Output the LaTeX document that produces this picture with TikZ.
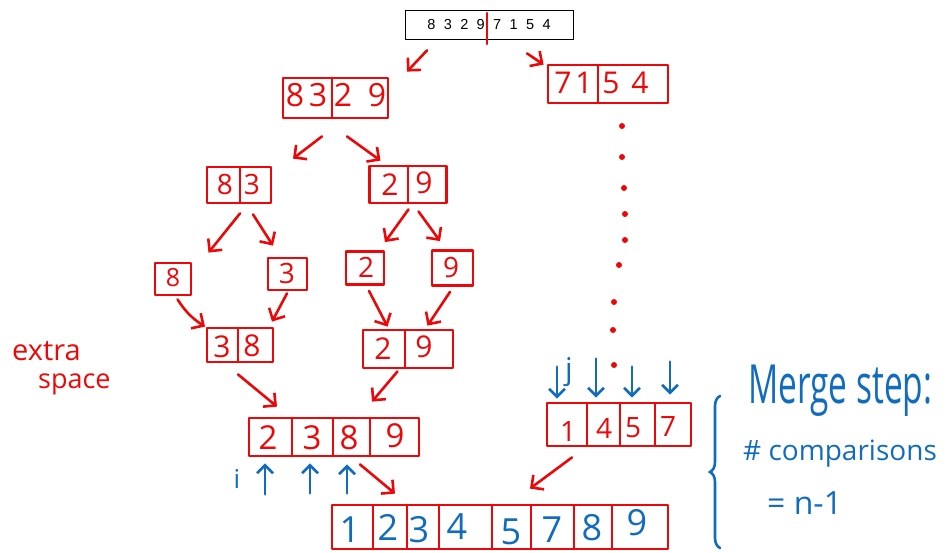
\documentclass[tikz,border=0pt]{standalone}
\usepackage{fontspec}
\usepackage{graphicx}
\setmainfont{Open Sans}
\newfontfamily\arialf{Liberation Sans}
\usetikzlibrary{arrows.meta,decorations.pathreplacing,calc}
\definecolor{myred}{RGB}{236,8,8}
\definecolor{myblue}{RGB}{18,108,190}
\begin{document}
\begin{tikzpicture}[x=1pt,y=-1pt,
  rbox/.style={draw=myred,line width=2.8pt,rectangle,inner sep=0pt,line join=round},
  rline/.style={draw=myred,line width=2.6pt,line cap=round},
  rarr/.style={draw=myred,line width=2.6pt,line cap=round,-{Straight Barb[length=9pt,width=18pt]}},
  barr/.style={draw=myblue,line width=2.6pt,line cap=round,-{Straight Barb[length=8pt,width=16pt]}},
  rdig/.style={text=myred,inner sep=0pt,font=\fontsize{#1}{#1}\selectfont},
  rdig/.default=30,
  bdig/.style={text=myblue,inner sep=0pt,font=\fontsize{36}{36}\selectfont}
]
\useasboundingbox (0,0) rectangle (949,552);

% top array
\node[draw=black,line width=0.8pt,minimum width=168pt,minimum height=29pt,inner sep=0pt,
      font=\arialf\fontsize{14.5}{14.5}\selectfont] (top) at (489,24.5)
      {\spaceskip=8.4pt\relax 8 3 2 9 7 1 5 4};
\draw[rline,line width=2.2pt] (487,13) -- (487,44);

% boxes
\node[rbox,minimum width=105pt,minimum height=40pt] (A) at (335.5,98) {};
\node[rbox,minimum width=120pt,minimum height=38pt] (B) at (608,84) {};
\node[rbox,minimum width=64pt,minimum height=36pt] (C) at (239,185) {};
\node[rbox,minimum width=77pt,minimum height=37pt] (D) at (408,184.5) {};
\node[rbox,minimum width=36pt,minimum height=32pt] (E) at (173,279) {};
\node[rbox,minimum width=39pt,minimum height=32pt] (F) at (287.5,274) {};
\node[rbox,minimum width=38pt,minimum height=33pt] (G) at (365,268) {};
\node[rbox,minimum width=41pt,minimum height=35pt] (H) at (452.5,268) {};
\node[rbox,minimum width=66pt,minimum height=34pt] (I) at (240,345) {};
\node[rbox,minimum width=90pt,minimum height=38pt] (J) at (408,349) {};
\node[rbox,minimum width=170pt,minimum height=38pt] (K) at (334,437) {};
\node[rbox,minimum width=144pt,minimum height=43pt] (L) at (619,424.5) {};
\node[rbox,minimum width=336pt,minimum height=44pt] (M) at (500,527) {};

% dividers
\draw[rline] (332,78) -- (332,118);
\draw[rline] (598,65) -- (598,103);
\draw[rline] (240,167) -- (240,203);
\draw[rline] (408,166) -- (408,203);
\draw[rline] (238,328) -- (238,362);
\draw[rline] (405,330) -- (405,368);
\foreach \xx in {292,333,370} \draw[rline] (\xx,418) -- (\xx,456);
\foreach \xx in {587,620,655} \draw[rline] (\xx,403) -- (\xx,446);
\foreach \xx in {373,407,439,492,531,574,612} \draw[rline] (\xx,505) -- (\xx,549);

% digits
\node[rdig=32] (a1) at (295,95) {8};
\node[rdig=32] (a2) at (318,95) {3};
\node[rdig=32] (a3) at (343,95) {2};
\node[rdig=32] (a4) at (377,95) {9};
\node[rdig] (b1) at (563,83) {7};
\node[rdig] (b2) at (584,83) {1};
\node[rdig] (b3) at (611,83) {5};
\node[rdig] (b4) at (640,83) {4};
\node[rdig=28] (c1) at (225,184) {8};
\node[rdig=28] (c2) at (252,184) {3};
\node[rdig] (d1) at (390,185) {2};
\node[rdig] (d2) at (424,183) {9};
\node[rdig=25] (e1) at (173,278) {8};
\node[rdig=28] (f1) at (287,273) {3};
\node[rdig=28] (g1) at (366,267) {2};
\node[rdig=28] (h1) at (451,267) {9};
\node[rdig] (i1) at (222,347) {3};
\node[rdig] (i2) at (252,346) {8};
\node[rdig] (j1) at (383,349) {2};
\node[rdig] (j2) at (424,347) {9};
\node[rdig=33] (k1) at (268,438) {2};
\node[rdig=33] (k2) at (312,438) {3};
\node[rdig=33] (k3) at (349,438) {8};
\node[rdig=33] (k4) at (395,436) {9};
\node[rdig=28] (l1) at (568,431) {1};
\node[rdig=28] (l2) at (604,428) {4};
\node[rdig=28] (l3) at (633,428) {5};
\node[rdig=28] (l4) at (668,426) {7};
\node[bdig] (m1) at (350,530) {1};
\node[bdig] (m2) at (388,527) {2};
\node[bdig] (m3) at (419,530) {3};
\node[bdig] (m4) at (457,527) {4};
\node[bdig] (m5) at (511,532) {5};
\node[bdig] (m6) at (552,530) {7};
\node[bdig] (m7) at (592,528) {8};
\node[bdig] (m8) at (637,523) {9};

% red arrows
\draw[rarr] ([shift={(-62,11)}]top.south) -- ([shift={(71.5,-5)}]A.north);
\draw[rarr] ([shift={(38,14)}]top.south) -- ([shift={(-3,1)}]B.north west);
\draw[rarr] ([shift={(-13.5,17)}]A.south) -- ([shift={(54,-7)}]C.north);
\draw[rarr] ([shift={(11.5,17)}]A.south) -- ([shift={(-27.5,-4)}]D.north);
\draw[rarr] ([shift={(1,9)}]C.south) -- ([shift={(35.5,-9)}]E.north);
\draw[rarr] ([shift={(14,10)}]C.south) -- ([shift={(-14.5,-11)}]F.north);
\draw[rarr] ([shift={(0.5,5)}]D.south) -- ([shift={(20,-8)}]G.north);
\draw[rarr] ([shift={(10.5,7)}]D.south) -- ([shift={(-12.5,-8)}]H.north);
\draw[rarr] ([shift={(4.5,3)}]E.south) to[bend right=12] ([shift={(-35,0)}]I.north);
\draw[rarr] ([shift={(-0.5,2)}]F.south) -- ([shift={(32,-5)}]I.north);
\draw[rarr] ([shift={(4,5)}]G.south) -- ([shift={(-20.5,-2)}]J.north);
\draw[rarr] ([shift={(-2.5,5)}]H.south) -- ([shift={(19.5,-3)}]J.north);
\draw[rarr] ([shift={(-2,11)}]I.south) -- ([shift={(-57,-10)}]K.north);
\draw[rarr] ([shift={(-10.5,2)}]J.south) -- ([shift={(38,-15)}]K.north);
\draw[rarr] ([shift={(26,7)}]K.south) -- ([shift={(-105,-10)}]M.north);
\draw[rarr] ([shift={(-47,10)}]L.south) -- ([shift={(30,-15)}]M.north);

% dots
\foreach \px/\py in {622/126,622/157,624/188,625/214,625/240,619/265,614/302,613/330,614/365}
  \fill[myred] (\px,\py) circle (3pt);

% blue pointer arrows
\draw[barr] ([shift={(-69,37)}]K.south) -- ([shift={(-69,6)}]K.south);
\draw[barr] ([shift={(-24,36)}]K.south) -- ([shift={(-24,6)}]K.south);
\draw[barr] ([shift={(13,36)}]K.south) -- ([shift={(13,7)}]K.south);
\node[text=myblue,inner sep=0pt,font=\fontsize{26}{26}\selectfont] (ilab) at (237,479) {i};
\draw[barr] ([shift={(-62,-35)}]L.north) -- ([shift={(-62,-3)}]L.north);
\draw[barr] ([shift={(-23,-43)}]L.north) -- ([shift={(-23,-4)}]L.north);
\draw[barr] ([shift={(13,-35)}]L.north) -- ([shift={(13,-4)}]L.north);
\draw[barr] ([shift={(51,-40)}]L.north) -- ([shift={(51,-7)}]L.north);
\node[text=myblue,inner sep=0pt,font=\fontsize{30}{30}\selectfont] (jlab) at (569,372) {j};

% extra space
\node[text=myred,inner sep=0pt,anchor=base west,font=\fontsize{29}{29}\selectfont] (ex1) at (12,360) {extra};
\node[text=myred,inner sep=0pt,anchor=base west,font=\fontsize{27}{27}\selectfont] (ex2) at (38,388) {space};

% brace and note
\draw[myblue,line width=2.6pt,line cap=round,decorate,decoration={brace,amplitude=10pt}] (720,548) -- (720,396);
\node[text=myblue,inner sep=0pt,anchor=base west,font=\fontsize{54}{54}\selectfont] (n1) at (748,403) {\scalebox{0.62}[1]{Merge step:}};
\node[text=myblue,inner sep=0pt,anchor=base west,font=\fontsize{28}{28}\selectfont] (n2) at (743,460) {\# comparisons};
\node[text=myblue,inner sep=0pt,anchor=base west,font=\fontsize{32}{32}\selectfont] (n3) at (767,514) {= n-1};
\end{tikzpicture}
\end{document}
